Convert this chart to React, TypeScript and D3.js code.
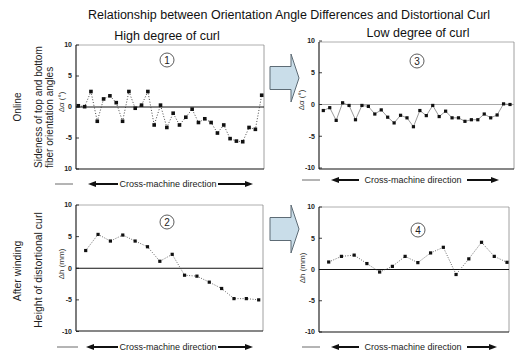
import React from 'react';
import * as d3 from 'd3';

const titleText = 'Relationship between Orientation Angle Differences and Distortional Curl';
const columnTitles = ['High degree of curl', 'Low degree of curl'];
const rowLabelsOnline = ['Online', 'Sideness of top and bottom', 'fiber orientation angles'];
const rowLabelsWinding = ['After winding', 'Height of distortional curl'];
const xAxisLabel = 'Cross-machine direction';

const highCurlOnline = [0.2, 0.05, 2.5, -2.3, 1.3, 1.8, 0.7, -2.3, 2.5, -0.2, 0.3, 2.5, -2.9, 0.3, -3.3, -1.0, -2.9, -1.65, -0.35, -2.5, -1.9, -2.5, -4.2, -2.9, -5.1, -5.5, -5.6, -3.3, -3.6, 1.9];
const lowCurlOnline = [-0.95, -0.5, -2.5, 0.27, -0.15, -2.4, -0.15, -0.3, -1.5, -0.85, -2.0, -2.9, -1.7, -2.1, -3.5, -0.95, -1.75, -0.15, -1.9, -1.05, -2.1, -2.1, -2.65, -2.4, -2.4, -1.5, -2.1, -1.65, 0.1, 0.0];
const highCurlWinding = [2.8, 5.35, 4.3, 5.25, 4.3, 3.4, 1.1, 2.2, -1.1, -1.25, -2.2, -3.2, -4.8, -4.8, -5.0];
const lowCurlWinding = [1.2, 2.1, 2.3, 0.95, -0.4, 0.5, 2.1, 1.1, 2.65, 3.55, -0.8, 1.7, 4.35, 2.1, 1.15];

const yTickValues = [10, 5, 0, -5, -10];
const yTickLabelsPanel1 = ['10', '5', '0', '-5', '10'];
const yTickLabels = ['10', '5', '0', '-5', '-10'];
const panelNumbers = ['1', '2', '3', '4'];

const FONT = 'Liberation Sans, Arial, Helvetica, sans-serif';

type PanelProps = {
  values: number[];
  xRange: [number, number];
  yRange: [number, number];
  frame: { l: number; r: number; t: number; b: number };
  tickLabels: string[];
  dash: string;
  lineColor: string;
  lineWidth: number;
  marker: number;
  num: string;
  numPos: [number, number];
  yLabel: string;
  yLabelPos: [number, number];
  cmY: number;
  cmX: [number, number, number, number, number, number];
  zeroColor: string;
};

function Panel(p: PanelProps) {
  const x = d3.scaleLinear().domain([0, p.values.length - 1]).range(p.xRange);
  const y = d3.scaleLinear().domain([-10, 10]).range(p.yRange);
  const line = d3.line<number>().x((_, i) => x(i)).y((d) => y(d));
  const f = p.frame;
  const [dashL0, dashL1, arrL0, arrL1, arrR0, arrR1] = p.cmX;
  const textX = (arrL1 + arrR0) / 2;
  return (
    <g>
      {/* frame */}
      <line x1={f.l} x2={f.r} y1={f.t} y2={f.t} stroke="#999" strokeWidth={0.8} />
      <line x1={f.r} x2={f.r} y1={f.t} y2={f.b} stroke="#888" strokeWidth={0.8} />
      <line x1={f.l} x2={f.l} y1={f.t} y2={f.b} stroke="#111" strokeWidth={1.1} />
      <line x1={f.l} x2={f.r} y1={f.b} y2={f.b} stroke="#111" strokeWidth={1.1} />
      {/* zero line */}
      <line x1={f.l} x2={f.r} y1={y(0)} y2={y(0)} stroke={p.zeroColor} strokeWidth={1} />
      {/* ticks */}
      {yTickValues.map((v, i) => (
        <g key={i}>
          <line x1={f.l} x2={f.l + 3} y1={y(v)} y2={y(v)} stroke="#111" strokeWidth={0.8} />
          <text x={f.l - 4} y={y(v)} dy="0.35em" textAnchor="end" fontSize={7} fontWeight="bold" fontFamily={FONT} fill="#222">
            {p.tickLabels[i]}
          </text>
        </g>
      ))}
      {/* data */}
      <path d={line(p.values) || ''} fill="none" stroke={p.lineColor} strokeWidth={p.lineWidth} strokeDasharray={p.dash} />
      {p.values.map((v, i) => (
        <rect key={i} x={x(i) - p.marker / 2} y={y(v) - p.marker / 2} width={p.marker} height={p.marker} fill="#111" />
      ))}
      {/* circled number */}
      <circle cx={p.numPos[0]} cy={p.numPos[1]} r={7} fill="none" stroke="#333" strokeWidth={0.8} />
      <text x={p.numPos[0]} y={p.numPos[1]} dy="0.36em" textAnchor="middle" fontSize={10} fontFamily={FONT} fill="#222">
        {p.num}
      </text>
      {/* y label */}
      <text transform={`translate(${p.yLabelPos[0]},${p.yLabelPos[1]}) rotate(-90)`} textAnchor="middle" fontSize={8} fontFamily={FONT} fill="#333">
        {p.yLabel}
      </text>
      {/* cross machine direction */}
      <line x1={dashL0} x2={dashL1} y1={p.cmY - 3} y2={p.cmY - 3} stroke="#444" strokeWidth={0.8} />
      <line x1={arrL0 + 4} x2={arrL1} y1={p.cmY - 3} y2={p.cmY - 3} stroke="#111" strokeWidth={2} />
      <path d={`M${arrL0},${p.cmY - 3} L${arrL0 + 8},${p.cmY - 6} L${arrL0 + 8},${p.cmY} Z`} fill="#111" />
      <line x1={arrR0} x2={arrR1 - 4} y1={p.cmY - 3} y2={p.cmY - 3} stroke="#111" strokeWidth={2} />
      <path d={`M${arrR1},${p.cmY - 3} L${arrR1 - 8},${p.cmY - 6} L${arrR1 - 8},${p.cmY} Z`} fill="#111" />
      <text x={textX} y={p.cmY} textAnchor="middle" fontSize={9} fontFamily={FONT} fill="#222">
        {xAxisLabel}
      </text>
    </g>
  );
}

function BlockArrow({ x0, yc }: { x0: number; yc: number }) {
  const body = 11.5;
  const head = 24;
  const bx = x0 + 21;
  const tip = x0 + 29;
  const d = `M${x0},${yc - body} L${bx},${yc - body} L${bx},${yc - head} L${tip},${yc} L${bx},${yc + head} L${bx},${yc + body} L${x0},${yc + body} Z`;
  return <path d={d} fill="#c9dde9" stroke="#5d6b75" strokeWidth={1} />;
}

export default function App() {
  return (
    <svg width={524} height={358} style={{ position: 'absolute', left: 0, top: 0, background: '#fff' }} fontFamily={FONT}>
      <rect width={524} height={358} fill="#fff" />
      <text x={289} y={19} textAnchor="middle" fontSize={12.5} fill="#111">{titleText}</text>
      <text x={167} y={40} textAnchor="middle" fontSize={12.5} fill="#111">{columnTitles[0]}</text>
      <text x={418} y={37} textAnchor="middle" fontSize={12.5} fill="#111">{columnTitles[1]}</text>

      <text transform="translate(21,107) rotate(-90)" textAnchor="middle" fontSize={10} fill="#222">{rowLabelsOnline[0]}</text>
      <text transform="translate(42,168) rotate(-90)" textAnchor="start" fontSize={10} fill="#222">{rowLabelsOnline[1]}</text>
      <text transform="translate(53,168) rotate(-90)" textAnchor="start" fontSize={10} fill="#222">{rowLabelsOnline[2]}</text>
      <text transform="translate(21,271) rotate(-90)" textAnchor="middle" fontSize={10.5} fill="#222">{rowLabelsWinding[0]}</text>
      <text transform="translate(42,270) rotate(-90)" textAnchor="middle" fontSize={10.5} fill="#222">{rowLabelsWinding[1]}</text>

      <Panel
        values={highCurlOnline}
        xRange={[78.3, 261.7]}
        yRange={[169, 45]}
        frame={{ l: 76, r: 264, t: 45, b: 169 }}
        tickLabels={yTickLabelsPanel1}
        dash="1,1.8"
        lineColor="#333"
        lineWidth={0.9}
        marker={3.6}
        num={panelNumbers[0]}
        numPos={[167, 60]}
        yLabel="Δα (°)"
        yLabelPos={[64, 102]}
        cmY={187}
        cmX={[55, 73, 88, 118, 218, 253]}
        zeroColor="#111"
      />
      <Panel
        values={lowCurlOnline}
        xRange={[323.3, 510]}
        yRange={[168, 41]}
        frame={{ l: 319, r: 514, t: 42, b: 169 }}
        tickLabels={yTickLabels}
        dash=""
        lineColor="#555"
        lineWidth={0.6}
        marker={3.2}
        num={panelNumbers[2]}
        numPos={[417, 61]}
        yLabel="Δα (°)"
        yLabelPos={[304, 100]}
        cmY={183}
        cmX={[302, 320, 331, 359, 467, 499]}
        zeroColor="#aaa"
      />
      <Panel
        values={highCurlWinding}
        xRange={[85.7, 258.7]}
        yRange={[331.5, 205]}
        frame={{ l: 76, r: 263, t: 205, b: 331 }}
        tickLabels={yTickLabels}
        dash="1,1.5"
        lineColor="#444"
        lineWidth={0.8}
        marker={3.2}
        num={panelNumbers[1]}
        numPos={[167, 222]}
        yLabel="Δh (mm)"
        yLabelPos={[64, 264]}
        cmY={350}
        cmX={[57, 78, 86, 118, 218, 253]}
        zeroColor="#111"
      />
      <Panel
        values={lowCurlWinding}
        xRange={[328.7, 507]}
        yRange={[332, 207]}
        frame={{ l: 319, r: 509, t: 207, b: 332 }}
        tickLabels={yTickLabels}
        dash="1,1.5"
        lineColor="#444"
        lineWidth={0.8}
        marker={3.2}
        num={panelNumbers[3]}
        numPos={[418, 230]}
        yLabel="Δh (mm)"
        yLabelPos={[305, 268]}
        cmY={350}
        cmX={[302, 320, 331, 359, 467, 497]}
        zeroColor="#111"
      />

      <BlockArrow x0={270} yc={78} />
      <BlockArrow x0={270} yc={229} />
    </svg>
  );
}
